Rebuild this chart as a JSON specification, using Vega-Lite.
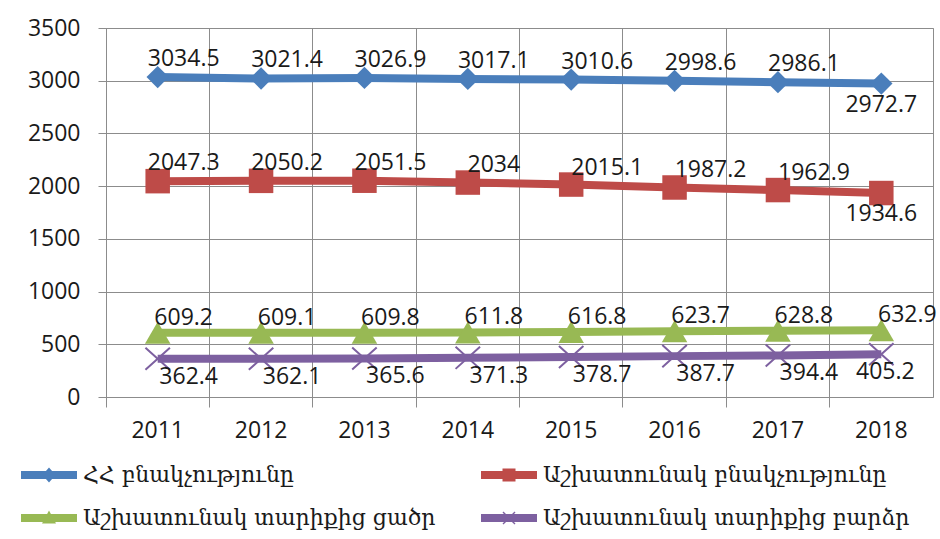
{
  "$schema": "https://vega.github.io/schema/vega-lite/v6.json",
  "autosize": "none",
  "width": 827,
  "height": 369,
  "padding": {"left": 106, "top": 28, "right": 7, "bottom": 142},
  "background": "white",
  "config": {
    "view": {"stroke": "#8c8c8c", "strokeWidth": 1},
    "axis": {"labelFont": "Open Sans", "labelFontSize": 23, "labelColor": "#1a1a1a", "gridColor": "#8c8c8c", "gridOpacity": 1, "tickColor": "#8c8c8c", "domainColor": "#8c8c8c", "title": null}
  },
  "data": {"values": [
    {"year": "2011", "series": "ՀՀ բնակչությունը", "value": 3034.5},
    {"year": "2012", "series": "ՀՀ բնակչությունը", "value": 3021.4},
    {"year": "2013", "series": "ՀՀ բնակչությունը", "value": 3026.9},
    {"year": "2014", "series": "ՀՀ բնակչությունը", "value": 3017.1},
    {"year": "2015", "series": "ՀՀ բնակչությունը", "value": 3010.6},
    {"year": "2016", "series": "ՀՀ բնակչությունը", "value": 2998.6},
    {"year": "2017", "series": "ՀՀ բնակչությունը", "value": 2986.1},
    {"year": "2018", "series": "ՀՀ բնակչությունը", "value": 2972.7},
    {"year": "2011", "series": "Աշխատունակ բնակչությունը", "value": 2047.3},
    {"year": "2012", "series": "Աշխատունակ բնակչությունը", "value": 2050.2},
    {"year": "2013", "series": "Աշխատունակ բնակչությունը", "value": 2051.5},
    {"year": "2014", "series": "Աշխատունակ բնակչությունը", "value": 2034},
    {"year": "2015", "series": "Աշխատունակ բնակչությունը", "value": 2015.1},
    {"year": "2016", "series": "Աշխատունակ բնակչությունը", "value": 1987.2},
    {"year": "2017", "series": "Աշխատունակ բնակչությունը", "value": 1962.9},
    {"year": "2018", "series": "Աշխատունակ բնակչությունը", "value": 1934.6},
    {"year": "2011", "series": "Աշխատունակ տարիքից ցածր", "value": 609.2},
    {"year": "2012", "series": "Աշխատունակ տարիքից ցածր", "value": 609.1},
    {"year": "2013", "series": "Աշխատունակ տարիքից ցածր", "value": 609.8},
    {"year": "2014", "series": "Աշխատունակ տարիքից ցածր", "value": 611.8},
    {"year": "2015", "series": "Աշխատունակ տարիքից ցածր", "value": 616.8},
    {"year": "2016", "series": "Աշխատունակ տարիքից ցածր", "value": 623.7},
    {"year": "2017", "series": "Աշխատունակ տարիքից ցածր", "value": 628.8},
    {"year": "2018", "series": "Աշխատունակ տարիքից ցածր", "value": 632.9},
    {"year": "2011", "series": "Աշխատունակ տարիքից բարձր", "value": 362.4},
    {"year": "2012", "series": "Աշխատունակ տարիքից բարձր", "value": 362.1},
    {"year": "2013", "series": "Աշխատունակ տարիքից բարձր", "value": 365.6},
    {"year": "2014", "series": "Աշխատունակ տարիքից բարձր", "value": 371.3},
    {"year": "2015", "series": "Աշխատունակ տարիքից բարձր", "value": 378.7},
    {"year": "2016", "series": "Աշխատունակ տարիքից բարձր", "value": 387.7},
    {"year": "2017", "series": "Աշխատունակ տարիքից բարձր", "value": 394.4},
    {"year": "2018", "series": "Աշխատունակ տարիքից բարձր", "value": 405.2}
  ]},
  "encoding": {
    "x": {"field": "year", "type": "ordinal", "scale": {"type": "band", "paddingInner": 0, "paddingOuter": 0},
      "axis": {"bandPosition": 0, "labelAngle": 0, "grid": true, "tickSize": 10, "labelPadding": 12, "domain": false}},
    "y": {"field": "value", "type": "quantitative", "scale": {"domain": [0, 3500], "nice": false},
      "axis": {"values": [0, 500, 1000, 1500, 2000, 2500, 3000, 3500], "format": "d", "tickSize": 8, "labelPadding": 18, "domain": true}}
  },
  "layer": [
    {
      "mark": {"type": "line", "strokeWidth": 8},
      "encoding": {
        "color": {"field": "series", "type": "nominal",
          "scale": {"domain": ["ՀՀ բնակչությունը", "Աշխատունակ տարիքից ցածր", "Աշխատունակ բնակչությունը", "Աշխատունակ տարիքից բարձր"],
                    "range": ["#4a7ebb", "#98b954", "#be4b48", "#7d60a0"]},
          "legend": {
            "orient": "none", "legendX": -68, "legendY": 436,
            "columns": 2, "columnPadding": 45, "rowPadding": 21,
            "symbolSize": 400, "labelOffset": 23, "padding": 0,
            "labelFont": "DejaVu Serif", "labelFontSize": 22, "labelColor": "#1a1a1a", "labelLimit": 0,
            "title": null,
            "encode": {"symbols": {"update": {
              "shape": [
                {"test": "datum.value === 'ՀՀ բնակչությունը'", "value": "M-2.8,-0.4H2.8V0.4H-2.8Z M0,-0.75L0.65,0L0,0.75L-0.65,0Z"},
                {"test": "datum.value === 'Աշխատունակ բնակչությունը'", "value": "M-2.8,-0.4H2.8V0.4H-2.8Z M-0.65,-0.65H0.65V0.65H-0.65Z"},
                {"test": "datum.value === 'Աշխատունակ տարիքից ցածր'", "value": "M-2.8,-0.4H2.8V0.4H-2.8Z M0,-0.75L0.7,0.55L-0.7,0.55Z"},
                {"value": "M-2.8,-0.4H2.8V0.4H-2.8Z M-0.65,-0.55L-0.55,-0.65L0.65,0.55L0.55,0.65Z M0.55,-0.65L0.65,-0.55L-0.55,0.65L-0.65,0.55Z"}
              ],
              "fill": {"signal": "scale('color', datum.value)"},
              "stroke": {"value": "transparent"},
              "strokeWidth": {"value": 0},
              "opacity": {"value": 1}
            }}}
          }}
      }
    },
    {
      "transform": [{"filter": "datum.series === 'ՀՀ բնակչությունը'"}],
      "mark": {"type": "point", "shape": "diamond", "size": 500, "filled": true, "opacity": 1, "color": "#4a7ebb"}
    },
    {
      "transform": [{"filter": "datum.series === 'Աշխատունակ բնակչությունը'"}],
      "mark": {"type": "point", "shape": "square", "size": 600, "filled": true, "opacity": 1, "color": "#be4b48"}
    },
    {
      "transform": [{"filter": "datum.series === 'Աշխատունակ տարիքից ցածր'"}],
      "mark": {"type": "point", "shape": "triangle-up", "size": 650, "filled": true, "opacity": 1, "color": "#98b954"}
    },
    {
      "transform": [{"filter": "datum.series === 'Աշխատունակ տարիքից բարձր'"}],
      "mark": {"type": "point", "shape": "M-1,-0.9L1,0.9M-1,0.9L1,-0.9", "size": 600, "filled": false, "strokeWidth": 2, "opacity": 1, "color": "#7d60a0"}
    },
    {
      "transform": [{"filter": "(datum.series === 'ՀՀ բնակչությունը' && datum.year !== '2018') || (datum.series === 'Աշխատունակ բնակչությունը' && datum.year < '2015')"}],
      "mark": {"type": "text", "font": "Open Sans", "fontSize": 23, "color": "#1a1a1a", "dx": 26, "dy": -18, "baseline": "middle", "align": "center"},
      "encoding": {"text": {"field": "value", "type": "quantitative", "format": ".5~"}}
    },
    {
      "transform": [{"filter": "datum.series === 'Աշխատունակ բնակչությունը' && datum.year >= '2015' && datum.year !== '2018'"}],
      "mark": {"type": "text", "font": "Open Sans", "fontSize": 23, "color": "#1a1a1a", "dx": 36, "dy": -17, "baseline": "middle", "align": "center"},
      "encoding": {"text": {"field": "value", "type": "quantitative", "format": ".5~"}}
    },
    {
      "transform": [{"filter": "(datum.series === 'ՀՀ բնակչությունը' || datum.series === 'Աշխատունակ բնակչությունը') && datum.year === '2018'"}],
      "mark": {"type": "text", "font": "Open Sans", "fontSize": 23, "color": "#1a1a1a", "dx": 0, "dy": 21, "baseline": "middle", "align": "center"},
      "encoding": {"text": {"field": "value", "type": "quantitative", "format": ".5~"}}
    },
    {
      "transform": [{"filter": "datum.series === 'Աշխատունակ տարիքից ցածր'"}],
      "mark": {"type": "text", "font": "Open Sans", "fontSize": 23, "color": "#1a1a1a", "dx": 26, "dy": -15, "baseline": "middle", "align": "center"},
      "encoding": {"text": {"field": "value", "type": "quantitative", "format": ".5~"}}
    },
    {
      "transform": [{"filter": "datum.series === 'Աշխատունակ տարիքից բարձր' && datum.year !== '2018'"}],
      "mark": {"type": "text", "font": "Open Sans", "fontSize": 23, "color": "#1a1a1a", "dx": 31, "dy": 18, "baseline": "middle", "align": "center"},
      "encoding": {"text": {"field": "value", "type": "quantitative", "format": ".5~"}}
    },
    {
      "transform": [{"filter": "datum.series === 'Աշխատունակ տարիքից բարձր' && datum.year === '2018'"}],
      "mark": {"type": "text", "font": "Open Sans", "fontSize": 23, "color": "#1a1a1a", "dx": 4, "dy": 18, "baseline": "middle", "align": "center"},
      "encoding": {"text": {"field": "value", "type": "quantitative", "format": ".5~"}}
    }
  ]
}
